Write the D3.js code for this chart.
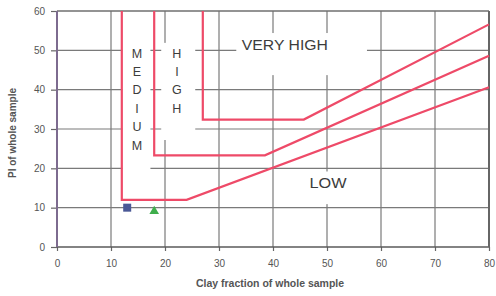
<!DOCTYPE html>
<html>
<head>
<meta charset="utf-8">
<script src="https://cdn.jsdelivr.net/npm/d3@7"></script>
<style>
  body { margin: 0; background: #fff; }
  text { font-family: "Liberation Sans", Arial, sans-serif; }
</style>
</head>
<body>
<div id="chart"></div>
<script>
// boundary lines (clay fraction, PI)
const lowMedium = [[12, 60], [12, 12], [24, 12], [80, 40.6]];
const mediumHigh = [[18, 60], [18, 23.3], [38.5, 23.3], [80, 48.6]];
const highVeryHigh = [[27, 60], [27, 32.4], [45.7, 32.4], [80, 56.6]];
const boundaries = [lowMedium, mediumHigh, highVeryHigh];

// sample points
const squarePts = [[13, 10]];
const trianglePts = [[18, 9.1]];

const xTicks = [0, 10, 20, 30, 40, 50, 60, 70, 80];
const yTicks = [0, 10, 20, 30, 40, 50, 60];

// zone labels and the white boxes behind them (data units)
const verticalLabels = [
  {letters: ["M", "E", "D", "I", "U", "M"], x: 14.8, box: [12.1, 17.3, 54.5, 18.0]},
  {letters: ["H", "I", "G", "H"], x: 22.2, box: [19.3, 25.6, 51.9, 27.2]}
];
const flatLabels = [
  {text: "VERY HIGH", x: 42.2, y: 51.4, len: 86, box: [33.2, 57.4, 54.4, 43.7]},
  {text: "LOW", x: 50.2, y: 16.2, len: 37, box: [43.0, 57.0, 19.2, 10.9]}
];

const W = 496, H = 296;
const margin = {top: 11, right: 7, bottom: 49, left: 57};

const svg = d3.select("#chart").append("svg")
    .attr("width", W)
    .attr("height", H);

const x = d3.scaleLinear().domain([0, 80]).range([margin.left, W - margin.right]);
const y = d3.scaleLinear().domain([0, 60]).range([H - margin.bottom, margin.top]);

// grid
svg.append("g").selectAll("line.v").data(xTicks.slice(1, -1)).enter()
    .append("line")
    .attr("x1", d => x(d)).attr("x2", d => x(d))
    .attr("y1", y(0)).attr("y2", y(60))
    .attr("stroke", "#7a7a7a").attr("stroke-width", 1.2);

svg.append("g").selectAll("line.h").data(yTicks.slice(1)).enter()
    .append("line")
    .attr("x1", x(0)).attr("x2", x(80))
    .attr("y1", d => y(d)).attr("y2", d => y(d))
    .attr("stroke", "#7a7a7a").attr("stroke-width", 1.2);

// white boxes that hide the grid behind the labels
const boxes = verticalLabels.map(d => d.box).concat(flatLabels.map(d => d.box));
svg.append("g").selectAll("rect").data(boxes).enter()
    .append("rect")
    .attr("x", d => x(d[0]))
    .attr("y", d => y(d[2]))
    .attr("width", d => x(d[1]) - x(d[0]))
    .attr("height", d => y(d[3]) - y(d[2]))
    .attr("fill", "#fff");

// axes
const xAxis = svg.append("g")
    .attr("transform", `translate(0,${y(0)})`)
    .call(d3.axisBottom(x).tickValues(xTicks).tickSize(4).tickPadding(9));
const yAxis = svg.append("g")
    .attr("transform", `translate(${x(0)},0)`)
    .call(d3.axisLeft(y).tickValues(yTicks).tickSize(6).tickPadding(6));

[xAxis, yAxis].forEach(a => {
  a.select(".domain").remove();
  a.selectAll(".tick line").attr("stroke", "#666").attr("stroke-width", 1.2);
  a.selectAll(".tick text")
    .attr("fill", "#555")
    .style("font-size", "10px")
    .style("font-family", "'Liberation Sans', Arial, sans-serif");
});

svg.append("line")
    .attr("x1", x(0)).attr("x2", x(80))
    .attr("y1", y(0)).attr("y2", y(0))
    .attr("stroke", "#5a5a5a").attr("stroke-width", 1.6);
svg.append("line")
    .attr("x1", x(80)).attr("x2", x(80))
    .attr("y1", y(0)).attr("y2", y(60))
    .attr("stroke", "#666").attr("stroke-width", 2);
svg.append("line")
    .attr("x1", x(0)).attr("x2", x(80))
    .attr("y1", y(60)).attr("y2", y(60))
    .attr("stroke", "#6a6a6a").attr("stroke-width", 1.2);
svg.append("line")
    .attr("x1", x(0)).attr("x2", x(0))
    .attr("y1", y(0)).attr("y2", y(60))
    .attr("stroke", "#7d6b8f").attr("stroke-width", 2);

// boundary lines
const line = d3.line().x(d => x(d[0])).y(d => y(d[1]));
svg.append("g").selectAll("path").data(boundaries).enter()
    .append("path")
    .attr("d", line)
    .attr("fill", "none")
    .attr("stroke", "#ee4a68")
    .attr("stroke-width", 2.2);

// zone labels
verticalLabels.forEach(l => {
  svg.append("g").selectAll("text").data(l.letters).enter()
      .append("text")
      .attr("x", x(l.x))
      .attr("y", (d, i) => 57.5 + i * 18.4)
      .attr("text-anchor", "middle")
      .attr("fill", "#3c3c3c")
      .style("font-size", "12.5px")
      .text(d => d);
});

svg.append("g").selectAll("text").data(flatLabels).enter()
    .append("text")
    .attr("x", d => x(d.x) - d.len / 2)
    .attr("y", d => y(d.y) + 5)
    .attr("textLength", d => d.len)
    .attr("lengthAdjust", "spacingAndGlyphs")
    .attr("fill", "#3c3c3c")
    .style("font-size", "14px")
    .text(d => d.text);

// sample points
svg.append("g").selectAll("rect").data(squarePts).enter()
    .append("rect")
    .attr("x", d => x(d[0]) - 4)
    .attr("y", d => y(d[1]) - 4)
    .attr("width", 8).attr("height", 8)
    .attr("fill", "#4a5896");

svg.append("g").selectAll("path").data(trianglePts).enter()
    .append("path")
    .attr("d", d3.symbol().type(d3.symbolTriangle).size(40))
    .attr("transform", d => `translate(${x(d[0])},${y(d[1])})`)
    .attr("fill", "#3fae4c");

// axis titles
svg.append("text")
    .attr("x", 270).attr("y", 287)
    .attr("text-anchor", "middle")
    .attr("fill", "#555")
    .style("font-size", "10.5px")
    .style("font-weight", "bold")
    .text("Clay fraction of whole sample");

svg.append("text")
    .attr("transform", `translate(16,${133}) rotate(-90)`)
    .attr("text-anchor", "middle")
    .attr("fill", "#555")
    .style("font-size", "10px")
    .style("font-weight", "bold")
    .text("PI of whole sample");
</script>
</body>
</html>
